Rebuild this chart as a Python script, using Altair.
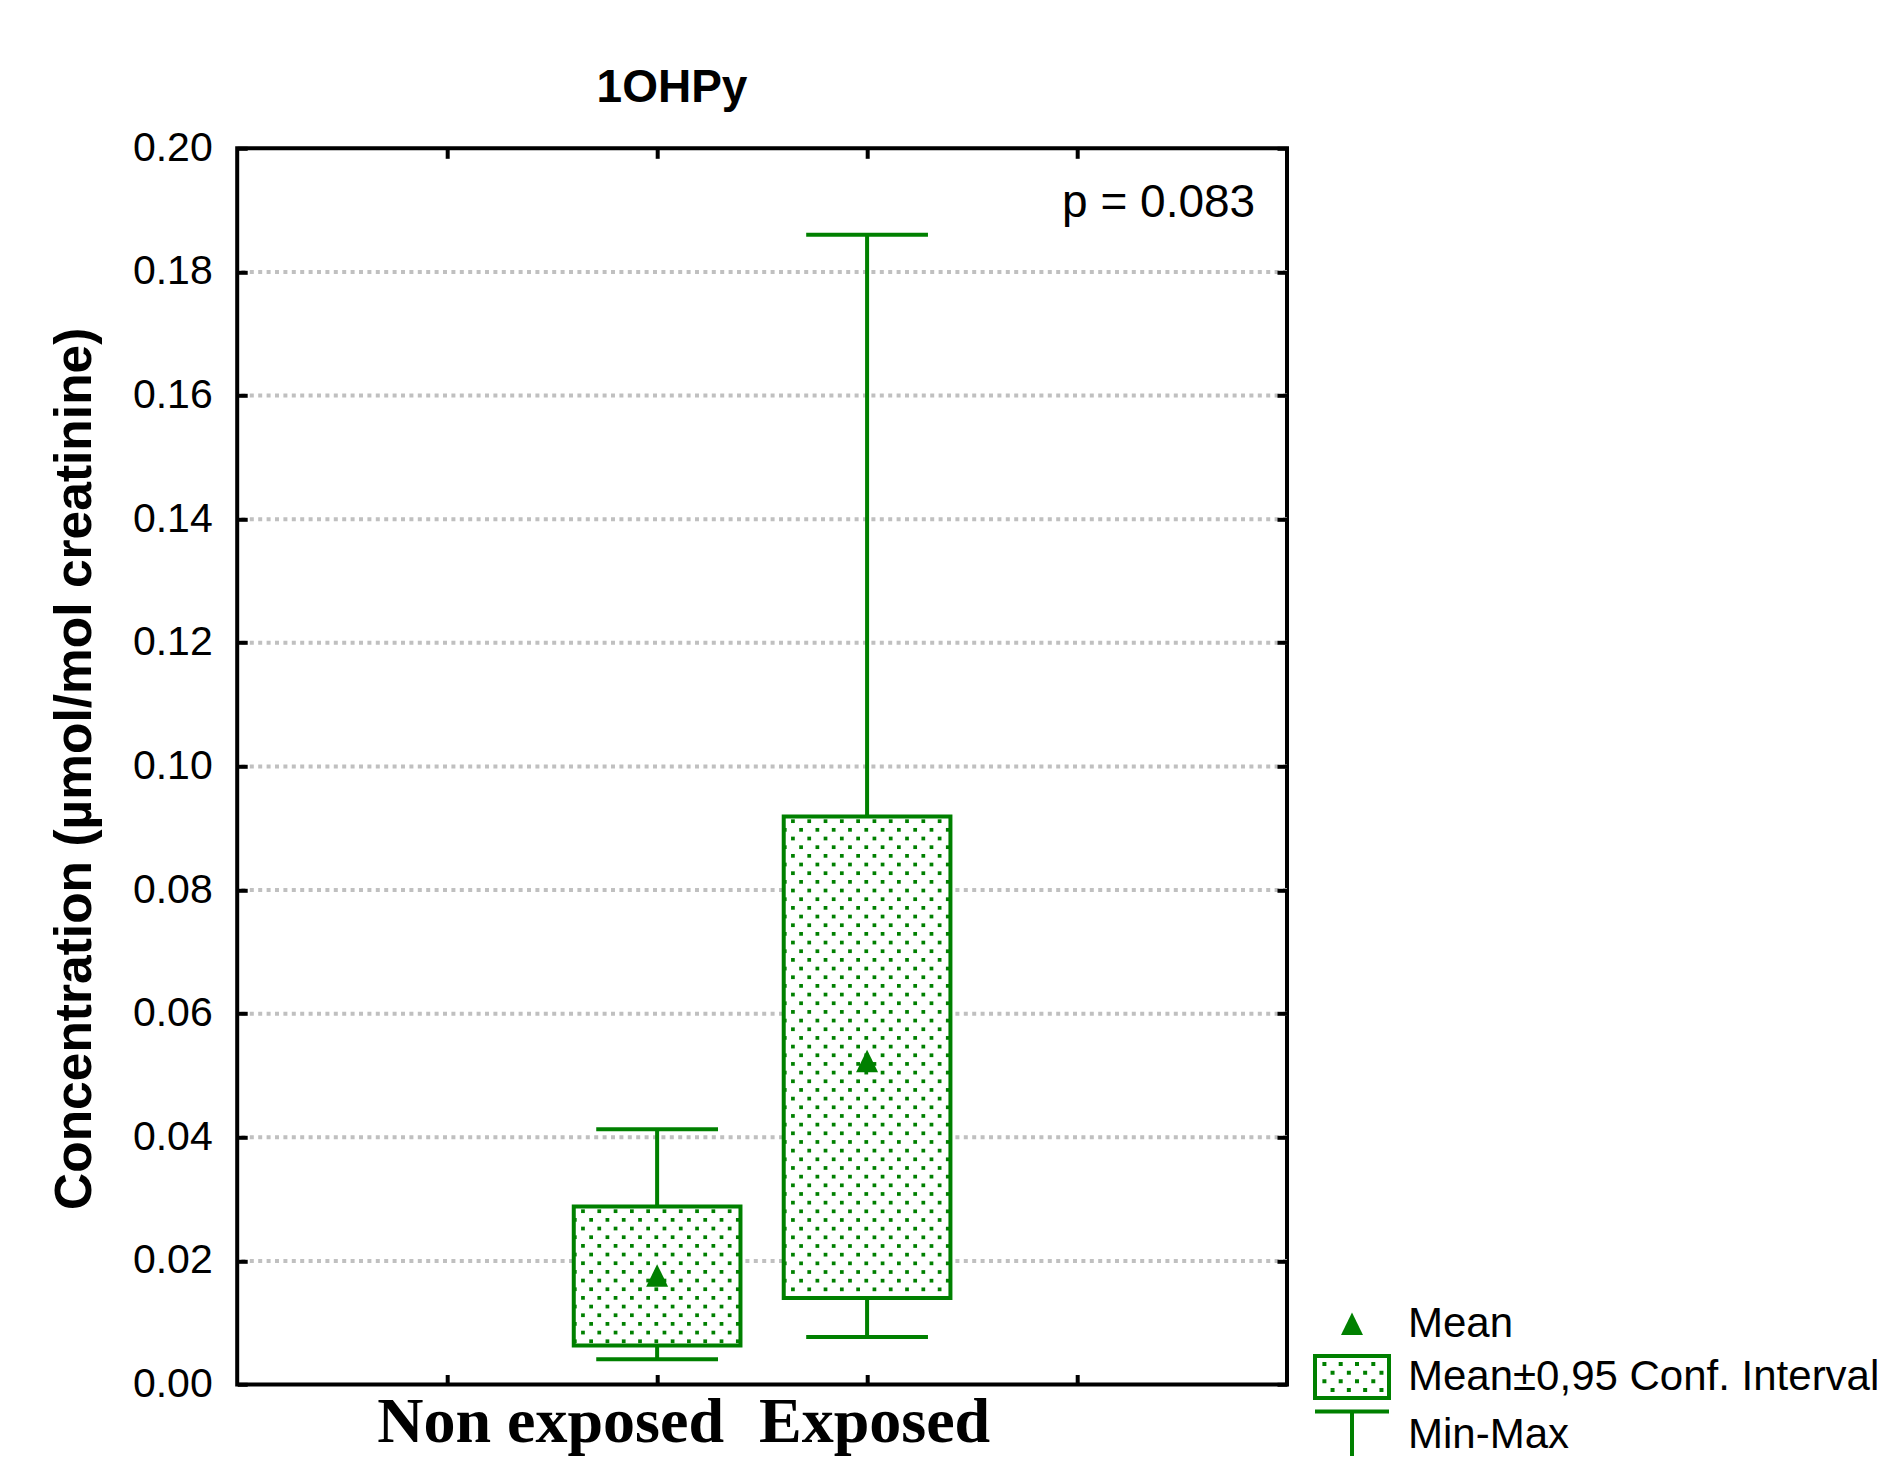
import altair as alt
import pandas as pd

# ---------------- data ----------------
groups = ["Non exposed", "Exposed"]
group_positions = [2, 3]
mins = [0.0041, 0.0077]
ci_low = [0.0063, 0.0140]
means = [0.0176, 0.0523]
ci_high = [0.0288, 0.0919]
maxs = [0.0413, 0.1860]

y_ticks = [0.00, 0.02, 0.04, 0.06, 0.08, 0.10, 0.12, 0.14, 0.16, 0.18, 0.20]
x_ticks = [1, 2, 3, 4]
legend_labels = ["Mean", "Mean\u00b10,95 Conf. Interval", "Min-Max"]
chart_title = "1OHPy"
y_title = "Concentration (\u00b5mol/mol creatinine)"
p_label = "p = 0.083"

# ---------------- style ----------------
GREEN = "#008000"
BOX_HW = 0.397
CAP_HW = 0.29
W, H = 1049.8, 1236.2
# dotted fill texture (in data units)
DOT_DY = 0.0014027
DOT_DX = 0.07763
DOT_PHASE_A = 0.0438
DOT_PHASE_B = 0.0050
DOT_TOP = 0.00076


def rect_cw(x0, y0, x1, y1):
    return f"M{x0},{y0}H{x1}V{y1}H{x0}Z"


def rect_ccw(x0, y0, x1, y1):
    return f"M{x0},{y0}V{y1}H{x1}V{y0}Z"


tri_path = "M0,-1.15L1.1,1.1L-1.1,1.1Z"
ci_path = rect_cw(-3.9, -2.3, 3.9, 2.3) + rect_ccw(-3.5, -1.9, 3.5, 1.9)
for ri, ry in enumerate([-1.3, -0.43, 0.43, 1.3]):
    start = -2.76 if ri % 2 == 0 else -1.945
    for ci in range(4):
        cx = round(start + ci * 1.63, 3)
        ci_path += rect_cw(round(cx - 0.2, 3), round(ry - 0.2, 3), round(cx + 0.2, 3), round(ry + 0.2, 3))
ib_path = (rect_cw(-3.7, -2.55, 3.7, -2.15) + rect_cw(-0.2, -2.15, 0.2, 2.15)
           + rect_cw(-3.7, 2.15, 3.7, 2.55))
symbol_paths = [tri_path, ci_path, ib_path]

df = pd.DataFrame({
    "group": groups, "pos": group_positions, "min": mins, "lo": ci_low,
    "mean": means, "hi": ci_high, "max": maxs,
})
grid_df = pd.DataFrame({"v": [t for t in y_ticks if 0 < t < y_ticks[-1]]})
ptext_df = pd.DataFrame({"t": [p_label]})

xs = alt.Scale(domain=[0, 5], nice=False, zero=False)
ys = alt.Scale(domain=[y_ticks[0], y_ticks[-1]], nice=False, zero=False)

label_expr = " : ".join(
    f"datum.value == {p} ? '{g}'" for p, g in zip(group_positions, groups)
) + " : ''"

left_axis = alt.Axis(
    orient="left", values=y_ticks, format=".2f", offset=-10, tickSize=10, tickWidth=4,
    tickColor="black", domain=False, grid=False, labelPadding=25, labelFont="Liberation Sans",
    labelFontSize=41, labelColor="black", labelOverlap=False, labelFlush=False, labelBound=False,
    title=y_title, titleFont="Liberation Sans", titleFontSize=51.5, titleFontWeight="bold",
    titleColor="black", titleAngle=270, titleAlign="center", titleBaseline="alphabetic",
    titleX=-157, titleY=620, titleLimit=2000, zindex=1,
)
right_axis = alt.Axis(
    orient="right", values=y_ticks, offset=-10, tickSize=10, tickWidth=4, tickColor="black",
    domain=False, grid=False, labels=False, title=None, zindex=1,
)
bottom_axis = alt.Axis(
    orient="bottom", values=x_ticks, offset=-10, tickSize=10, tickWidth=4, tickColor="black",
    domain=False, grid=False, labelExpr=label_expr, labelFont="Liberation Serif",
    labelFontSize=64, labelFontWeight="bold", labelColor="black", labelBaseline="alphabetic",
    labelAlign="center", labelPadding=57, labelOverlap=False, labelFlush=False,
    labelBound=False, labelLimit=2000,
    labelOffset={"condition": {"test": f"datum.value == {group_positions[0]}", "value": -107}, "value": 7},
    title=None, zindex=1,
)
top_axis = alt.Axis(
    orient="top", values=x_ticks, offset=-10, tickSize=10, tickWidth=4, tickColor="black",
    domain=False, grid=False, labels=False, title=None, zindex=1,
)

grid = alt.Chart(grid_df).mark_rule(
    color="#c0c0c0", strokeWidth=4, strokeDash=[4, 4.4]
).encode(y=alt.Y("v:Q", scale=ys, axis=left_axis))

stems = alt.Chart(df).mark_rule(color=GREEN, strokeWidth=4).encode(
    x=alt.X("pos:Q", scale=xs, axis=bottom_axis),
    y=alt.Y("min:Q", scale=ys, axis=None),
    y2="max:Q",
)

caps = alt.Chart(df).transform_fold(["min", "max"], as_=["k", "v"]).transform_calculate(
    xa=f"datum.pos - {CAP_HW}", xb=f"datum.pos + {CAP_HW}"
).mark_rule(color=GREEN, strokeWidth=4).encode(
    x=alt.X("xa:Q", scale=xs, axis=None), x2="xb:Q",
    y=alt.Y("v:Q", scale=ys, axis=None),
)

box = alt.Chart(df).transform_calculate(
    xa=f"datum.pos - {BOX_HW}", xb=f"datum.pos + {BOX_HW}"
).mark_rect(fill="white", stroke=GREEN, strokeWidth=4).encode(
    x=alt.X("xa:Q", scale=xs, axis=top_axis), x2="xb:Q",
    y=alt.Y("lo:Q", scale=ys, axis=right_axis), y2="hi:Q",
)

dots = alt.Chart(df).transform_calculate(
    rows=f"sequence(0, floor((datum.hi - datum.lo - {DOT_TOP} - 0.0001) / {DOT_DY}) + 1)"
).transform_flatten(["rows"], as_=["r"]).transform_calculate(
    yv=f"datum.hi - {DOT_TOP} - datum.r * {DOT_DY}",
    cols="sequence(0, 12)",
).transform_flatten(["cols"], as_=["c"]).transform_calculate(
    xv=f"datum.pos - {BOX_HW} + (datum.r % 2 == 0 ? {DOT_PHASE_A} : {DOT_PHASE_B}) + datum.c * {DOT_DX}"
).transform_filter(
    f"datum.xv <= datum.pos + {BOX_HW} - 0.003"
).mark_square(color=GREEN, size=14, opacity=1, filled=True, strokeWidth=0).encode(
    x=alt.X("xv:Q", scale=xs, axis=None),
    y=alt.Y("yv:Q", scale=ys, axis=None),
)

legend = alt.Legend(
    title=None, orient="none", legendX=1093.8, legendY=1154.7, padding=0,
    symbolSize=400, symbolFillColor=GREEN, symbolStrokeColor=GREEN, symbolStrokeWidth=0,
    symbolOpacity=1, labelFont="Liberation Sans", labelFontSize=42, labelColor="black",
    labelOffset=35, labelLimit=1000, rowPadding=9,
)

mean_pts = alt.Chart(df).transform_calculate(series=f"'{legend_labels[0]}'").mark_point(
    filled=True, size=400, color=GREEN, opacity=1, strokeWidth=0
).encode(
    x=alt.X("pos:Q", scale=xs, axis=None),
    y=alt.Y("mean:Q", scale=ys, axis=None),
    shape=alt.Shape("series:N", scale=alt.Scale(domain=legend_labels, range=symbol_paths),
                    legend=legend),
)

ptext = alt.Chart(ptext_df).mark_text(
    align="right", baseline="alphabetic", font="Liberation Sans", fontSize=46, color="black"
).encode(text="t:N", x=alt.value(1018), y=alt.value(69))

chart = alt.layer(grid, stems, caps, box, dots, mean_pts, ptext).resolve_axis(
    x="independent", y="independent"
).properties(
    width=W, height=H,
    autosize=alt.AutoSizeParams(type="none"),
    padding={"left": 229.2, "top": 140.3, "right": 601, "bottom": 71.5},
    background="white",
    title=alt.TitleParams(
        text=chart_title, anchor="start", align="center", dx=434.8, offset=-21,
        baseline="alphabetic", font="Liberation Sans", fontSize=46, fontWeight="bold",
        color="black", frame="group",
    ),
).configure_view(stroke="black", strokeWidth=4)

chart.save("out.html", embed_options={"renderer": "svg", "actions": False})
